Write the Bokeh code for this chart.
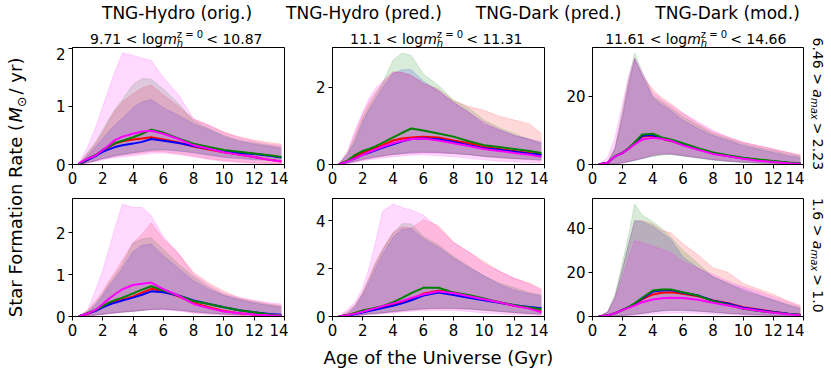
from math import pi, cos, sin
from bokeh.plotting import figure
from bokeh.models import Range1d, FixedTicker, Label, Legend, LegendItem
from bokeh.layouts import row, column
from bokeh.embed import file_html
from bokeh.resources import INLINE

# ---------------- data ----------------
AGE = [0.4, 1.0, 1.5, 2.0, 2.4, 2.8, 3.3, 4.0, 4.6, 5.2, 6.0, 7.0, 8.0, 9.0, 10.0, 11.0, 12.0, 13.0, 13.8]
X_TICKS = [0, 2, 4, 6, 8, 10, 12, 14]
SERIES = ["red", "blue", "green", "mag"]
SERIES_LABELS = ["TNG-Hydro (orig.)", "TNG-Hydro (pred.)", "TNG-Dark (pred.)", "TNG-Dark (mod.)"]
MASS_BINS = [("9.71", "10.87"), ("11.1", "11.31"), ("11.61", "14.66")]
AMAX_BINS = [("6.46", "2.23"), ("1.6", "1.0")]
Y_TICKS = {"A": [0, 1, 2], "B": [0, 2], "C": [0, 20], "D": [0, 1, 2], "E": [0, 2, 4], "F": [0, 20, 40]}
X_LABEL = "Age of the Universe (Gyr)"

# Panel A: top-left
A_red_med = [0, 0.08, 0.15, 0.25, 0.30, 0.36, 0.40, 0.43, 0.45, 0.47, 0.43, 0.38, 0.31, 0.26, 0.21, 0.17, 0.13, 0.08, 0.05]
A_blue_med = [0, 0.08, 0.14, 0.22, 0.26, 0.30, 0.33, 0.36, 0.39, 0.44, 0.41, 0.37, 0.32, 0.27, 0.23, 0.20, 0.18, 0.15, 0.12]
A_green_med = [0, 0.10, 0.16, 0.25, 0.31, 0.37, 0.41, 0.47, 0.53, 0.60, 0.55, 0.45, 0.36, 0.30, 0.25, 0.22, 0.19, 0.16, 0.13]
A_mag_med = [0.02, 0.10, 0.15, 0.25, 0.33, 0.42, 0.48, 0.53, 0.57, 0.58, 0.53, 0.44, 0.33, 0.27, 0.21, 0.17, 0.13, 0.08, 0.05]
A_red_hi = [0, 0.20, 0.35, 0.55, 0.75, 0.92, 1.08, 1.22, 1.32, 1.37, 1.20, 1.00, 0.78, 0.68, 0.56, 0.48, 0.42, 0.38, 0.35]
A_blue_hi = [0, 0.15, 0.30, 0.45, 0.57, 0.68, 0.80, 0.98, 1.08, 1.12, 0.98, 0.85, 0.70, 0.60, 0.48, 0.40, 0.35, 0.31, 0.28]
A_green_hi = [0, 0.20, 0.38, 0.60, 0.78, 0.95, 1.12, 1.38, 1.48, 1.47, 1.30, 1.05, 0.75, 0.62, 0.50, 0.42, 0.37, 0.33, 0.30]
A_mag_hi = [0.02, 0.30, 0.62, 1.00, 1.30, 1.60, 1.92, 1.88, 1.83, 1.79, 1.50, 1.20, 0.79, 0.67, 0.55, 0.46, 0.40, 0.35, 0.33]
A_red_lo = [0, 0.03, 0.06, 0.10, 0.12, 0.14, 0.16, 0.18, 0.20, 0.22, 0.22, 0.19, 0.15, 0.10, 0.07, 0.05, 0.03, 0.02, 0.01]
A_blue_lo = [0, 0.03, 0.06, 0.10, 0.12, 0.15, 0.17, 0.20, 0.22, 0.24, 0.25, 0.23, 0.20, 0.16, 0.12, 0.10, 0.08, 0.07, 0.07]
A_green_lo = [0, 0.04, 0.07, 0.11, 0.13, 0.16, 0.18, 0.21, 0.23, 0.25, 0.26, 0.24, 0.21, 0.17, 0.13, 0.11, 0.09, 0.08, 0.07]
A_mag_lo = [0, 0.02, 0.05, 0.08, 0.10, 0.12, 0.13, 0.15, 0.17, 0.19, 0.20, 0.17, 0.13, 0.09, 0.05, 0.03, 0.02, 0.01, 0.01]

# Panel B: top-middle
B_red_med = [0, 0.10, 0.20, 0.30, 0.36, 0.42, 0.50, 0.62, 0.67, 0.70, 0.72, 0.70, 0.62, 0.55, 0.45, 0.40, 0.35, 0.30, 0.25]
B_blue_med = [0, 0.08, 0.16, 0.25, 0.30, 0.36, 0.43, 0.52, 0.60, 0.66, 0.68, 0.65, 0.58, 0.50, 0.42, 0.38, 0.33, 0.28, 0.25]
B_green_med = [0, 0.10, 0.25, 0.35, 0.40, 0.46, 0.56, 0.70, 0.82, 0.93, 0.88, 0.80, 0.72, 0.60, 0.50, 0.45, 0.40, 0.35, 0.30]
B_mag_med = [0, 0.08, 0.16, 0.25, 0.32, 0.38, 0.46, 0.55, 0.61, 0.66, 0.67, 0.62, 0.55, 0.48, 0.40, 0.35, 0.30, 0.25, 0.20]
B_red_hi = [0, 0.30, 0.80, 1.30, 1.60, 1.85, 2.10, 2.40, 2.38, 2.30, 2.10, 1.95, 1.65, 1.50, 1.40, 1.25, 1.15, 1.05, 0.80]
B_blue_hi = [0, 0.25, 0.60, 1.10, 1.40, 1.65, 1.98, 2.35, 2.45, 2.45, 2.15, 1.90, 1.60, 1.35, 1.05, 0.90, 0.75, 0.65, 0.55]
B_green_hi = [0, 0.30, 0.70, 1.20, 1.50, 1.75, 2.10, 2.70, 2.88, 2.82, 2.34, 2.04, 1.66, 1.45, 1.15, 0.95, 0.80, 0.65, 0.55]
B_mag_hi = [0, 0.35, 0.90, 1.35, 1.70, 1.95, 2.15, 2.38, 2.38, 2.30, 2.10, 1.90, 1.60, 1.35, 1.10, 0.90, 0.75, 0.65, 0.60]
B_red_lo = [0, 0.03, 0.07, 0.12, 0.15, 0.18, 0.21, 0.25, 0.27, 0.29, 0.30, 0.30, 0.28, 0.25, 0.20, 0.17, 0.15, 0.12, 0.10]
B_blue_lo = [0, 0.04, 0.08, 0.13, 0.16, 0.19, 0.22, 0.26, 0.28, 0.30, 0.31, 0.30, 0.28, 0.25, 0.21, 0.18, 0.15, 0.13, 0.12]
B_green_lo = [0, 0.04, 0.09, 0.14, 0.17, 0.20, 0.23, 0.27, 0.30, 0.32, 0.33, 0.32, 0.30, 0.26, 0.22, 0.19, 0.16, 0.14, 0.12]
B_mag_lo = [0, 0.02, 0.05, 0.10, 0.12, 0.14, 0.17, 0.20, 0.22, 0.24, 0.25, 0.23, 0.20, 0.16, 0.12, 0.09, 0.07, 0.05, 0.04]

# Panel C: top-right
C_red_med = [0, 0.5, 2.4, 3.4, 4.7, 6.2, 8.2, 8.4, 7.5, 6.9, 5.8, 4.5, 3.3, 2.5, 1.8, 1.3, 0.9, 0.5, 0.3]
C_blue_med = [0, 0.5, 2.4, 3.4, 4.7, 6.3, 8.4, 8.6, 7.6, 7.0, 5.8, 4.5, 3.3, 2.5, 1.8, 1.3, 0.9, 0.5, 0.3]
C_green_med = [0, 0.5, 2.5, 3.5, 4.8, 6.5, 8.8, 9.0, 7.9, 7.3, 6.2, 4.8, 3.5, 2.7, 2.0, 1.5, 1.0, 0.6, 0.4]
C_mag_med = [0, 0.5, 2.4, 3.4, 4.6, 5.9, 7.3, 7.8, 7.5, 7.0, 5.6, 4.3, 3.1, 2.4, 1.7, 1.1, 0.7, 0.4, 0.2]
C_red_hi = [0, 0.5, 5.0, 15.0, 24.0, 31.0, 26.0, 22.0, 19.5, 17.8, 15.0, 12.0, 9.5, 8.0, 6.5, 5.5, 4.5, 3.5, 2.8]
C_blue_hi = [0, 0.5, 4.5, 14.0, 23.0, 31.0, 26.0, 19.5, 17.5, 15.7, 13.0, 10.5, 8.5, 7.0, 5.5, 4.5, 3.5, 2.5, 2.0]
C_green_hi = [0, 0.5, 5.0, 16.0, 25.0, 32.6, 27.0, 20.0, 18.3, 16.5, 14.0, 11.5, 9.0, 7.5, 6.0, 5.0, 4.0, 3.0, 2.5]
C_mag_hi = [0, 2.0, 8.0, 18.0, 26.0, 31.0, 27.0, 21.0, 19.0, 17.2, 15.0, 12.5, 10.0, 8.0, 6.5, 5.5, 4.5, 3.5, 2.5]
C_red_lo = [0, 0.05, 0.2, 0.5, 0.8, 1.3, 1.8, 2.6, 3.0, 3.1, 2.6, 2.0, 1.4, 1.0, 0.7, 0.45, 0.3, 0.2, 0.15]
C_blue_lo = [0, 0.05, 0.2, 0.5, 0.8, 1.2, 1.7, 2.5, 2.9, 3.0, 2.5, 1.9, 1.3, 0.9, 0.6, 0.4, 0.3, 0.2, 0.15]
C_green_lo = [0, 0.05, 0.2, 0.5, 0.8, 1.2, 1.7, 2.4, 2.8, 2.9, 2.5, 1.9, 1.3, 0.9, 0.6, 0.4, 0.3, 0.2, 0.15]
C_mag_lo = [0, 0.05, 0.2, 0.5, 0.9, 1.4, 2.0, 3.0, 3.3, 3.2, 2.8, 2.2, 1.5, 1.1, 0.8, 0.55, 0.4, 0.3, 0.2]

# Panel D: bottom-left
D_red_med = [0, 0.06, 0.14, 0.25, 0.31, 0.36, 0.40, 0.48, 0.57, 0.66, 0.60, 0.48, 0.32, 0.22, 0.13, 0.08, 0.05, 0.02, 0.01]
D_blue_med = [0, 0.07, 0.13, 0.22, 0.28, 0.33, 0.38, 0.45, 0.52, 0.60, 0.58, 0.50, 0.38, 0.30, 0.22, 0.15, 0.10, 0.06, 0.04]
D_green_med = [0, 0.08, 0.15, 0.25, 0.33, 0.39, 0.45, 0.55, 0.64, 0.72, 0.62, 0.50, 0.37, 0.30, 0.22, 0.15, 0.10, 0.05, 0.03]
D_mag_med = [0, 0.07, 0.15, 0.30, 0.42, 0.53, 0.65, 0.75, 0.78, 0.81, 0.65, 0.50, 0.30, 0.20, 0.12, 0.08, 0.05, 0.03, 0.02]
D_red_hi = [0, 0.15, 0.35, 0.60, 0.85, 1.05, 1.35, 1.75, 1.97, 2.23, 1.85, 1.50, 1.05, 0.80, 0.60, 0.45, 0.37, 0.30, 0.27]
D_blue_hi = [0, 0.10, 0.27, 0.50, 0.72, 0.90, 1.15, 1.55, 1.70, 1.73, 1.45, 1.15, 0.85, 0.65, 0.50, 0.40, 0.32, 0.26, 0.22]
D_green_hi = [0, 0.12, 0.30, 0.55, 0.78, 0.98, 1.25, 1.75, 1.85, 1.88, 1.60, 1.25, 0.95, 0.70, 0.52, 0.42, 0.34, 0.28, 0.24]
D_mag_hi = [0, 0.15, 0.60, 1.10, 1.60, 2.10, 2.68, 2.60, 2.60, 2.40, 1.90, 1.50, 1.00, 0.75, 0.55, 0.45, 0.38, 0.33, 0.30]
D_red_lo = [0, 0.02, 0.03, 0.05, 0.07, 0.09, 0.10, 0.12, 0.15, 0.17, 0.18, 0.15, 0.10, 0.07, 0.05, 0.03, 0.02, 0.01, 0.01]
D_blue_lo = [0, 0.02, 0.03, 0.05, 0.07, 0.08, 0.10, 0.12, 0.14, 0.16, 0.17, 0.15, 0.11, 0.08, 0.06, 0.04, 0.03, 0.02, 0.02]
D_green_lo = [0, 0.02, 0.04, 0.06, 0.08, 0.09, 0.11, 0.13, 0.15, 0.17, 0.18, 0.16, 0.12, 0.09, 0.06, 0.04, 0.03, 0.02, 0.02]
D_mag_lo = [0, 0.01, 0.03, 0.05, 0.07, 0.09, 0.11, 0.13, 0.15, 0.17, 0.16, 0.13, 0.08, 0.05, 0.03, 0.02, 0.01, 0.01, 0.0]

# Panel E: bottom-middle
E_red_med = [0, 0.05, 0.15, 0.25, 0.29, 0.33, 0.40, 0.50, 0.60, 0.72, 0.95, 1.08, 1.00, 0.85, 0.72, 0.60, 0.45, 0.35, 0.20]
E_blue_med = [0, 0.03, 0.10, 0.17, 0.23, 0.28, 0.35, 0.45, 0.55, 0.68, 0.88, 1.00, 0.90, 0.78, 0.68, 0.57, 0.47, 0.40, 0.35]
E_green_med = [0, 0.05, 0.15, 0.25, 0.30, 0.36, 0.43, 0.60, 0.78, 0.98, 1.20, 1.20, 1.00, 0.90, 0.75, 0.60, 0.48, 0.38, 0.30]
E_mag_med = [0, 0.05, 0.12, 0.20, 0.27, 0.34, 0.43, 0.55, 0.65, 0.78, 0.92, 1.05, 0.98, 0.85, 0.72, 0.60, 0.45, 0.33, 0.18]
E_red_hi = [0, 0.20, 0.50, 1.00, 1.60, 2.20, 2.80, 3.50, 3.75, 3.70, 4.05, 3.80, 3.10, 2.70, 2.30, 1.90, 1.60, 1.40, 1.15]
E_blue_hi = [0, 0.12, 0.40, 0.90, 1.40, 1.95, 2.60, 3.30, 3.65, 3.68, 3.25, 2.90, 2.45, 2.05, 1.70, 1.35, 1.10, 0.95, 0.85]
E_green_hi = [0, 0.15, 0.45, 1.00, 1.55, 2.15, 2.80, 3.50, 3.88, 3.88, 3.35, 3.00, 2.50, 2.10, 1.70, 1.40, 1.20, 1.00, 0.90]
E_mag_hi = [0, 0.30, 0.60, 1.20, 2.00, 3.00, 4.40, 4.70, 4.55, 4.45, 4.25, 3.70, 3.10, 2.70, 2.20, 1.90, 1.60, 1.35, 1.10]
E_red_lo = [0, 0.01, 0.03, 0.07, 0.10, 0.12, 0.15, 0.19, 0.23, 0.27, 0.30, 0.32, 0.32, 0.30, 0.25, 0.20, 0.15, 0.11, 0.07]
E_blue_lo = [0, 0.01, 0.03, 0.07, 0.10, 0.12, 0.15, 0.20, 0.24, 0.28, 0.32, 0.34, 0.33, 0.31, 0.27, 0.22, 0.17, 0.13, 0.10]
E_green_lo = [0, 0.01, 0.04, 0.08, 0.11, 0.13, 0.16, 0.21, 0.25, 0.29, 0.33, 0.35, 0.34, 0.32, 0.27, 0.22, 0.17, 0.13, 0.10]
E_mag_lo = [0, 0.01, 0.03, 0.05, 0.07, 0.09, 0.12, 0.15, 0.19, 0.22, 0.25, 0.26, 0.25, 0.21, 0.15, 0.11, 0.08, 0.06, 0.04]

# Panel F: bottom-right
F_red_med = [0, 0.5, 1.5, 3.0, 4.1, 5.6, 7.8, 10.0, 10.8, 11.0, 10.3, 9.2, 7.3, 6.0, 4.2, 3.2, 2.2, 1.3, 0.8]
F_blue_med = [0, 0.5, 1.5, 3.0, 4.2, 5.8, 8.2, 11.3, 11.8, 12.0, 10.8, 9.5, 7.2, 5.8, 4.0, 3.0, 2.0, 1.2, 0.7]
F_green_med = [0, 0.5, 1.5, 3.0, 4.3, 6.0, 8.5, 11.8, 12.2, 12.3, 11.0, 9.5, 7.0, 5.3, 3.5, 2.5, 1.8, 1.1, 0.7]
F_mag_med = [0, 0.5, 1.5, 3.0, 3.9, 5.0, 6.5, 7.7, 8.3, 8.5, 8.4, 7.6, 6.2, 5.0, 3.6, 2.6, 1.7, 1.0, 0.5]
F_red_hi = [0, 2.0, 9.0, 22.0, 33.0, 43.5, 43.5, 42.0, 39.0, 38.0, 33.0, 28.0, 22.0, 20.0, 15.0, 12.5, 10.0, 7.0, 5.0]
F_blue_hi = [0, 2.0, 9.0, 22.0, 33.0, 43.5, 43.0, 41.0, 38.0, 35.0, 27.0, 22.0, 18.0, 15.0, 12.5, 10.0, 7.5, 5.0, 3.5]
F_green_hi = [0, 2.0, 10.0, 25.0, 37.0, 51.0, 46.0, 43.0, 40.0, 36.0, 30.0, 24.0, 18.0, 15.0, 11.5, 9.5, 7.5, 5.5, 4.0]
F_mag_hi = [0, 2.0, 8.0, 18.0, 27.0, 34.5, 33.5, 32.0, 30.5, 29.0, 25.0, 22.0, 19.0, 16.0, 13.5, 11.5, 9.0, 6.5, 4.5]
F_red_lo = [0, 0.05, 0.2, 0.4, 0.7, 1.0, 1.5, 2.2, 2.7, 3.0, 2.9, 2.5, 2.0, 1.5, 1.1, 0.8, 0.5, 0.3, 0.2]
F_blue_lo = [0, 0.05, 0.2, 0.4, 0.7, 1.0, 1.4, 2.0, 2.5, 2.8, 2.7, 2.4, 1.9, 1.4, 1.0, 0.7, 0.5, 0.3, 0.2]
F_green_lo = [0, 0.05, 0.2, 0.4, 0.7, 1.0, 1.4, 2.0, 2.5, 2.8, 2.7, 2.4, 1.9, 1.4, 1.0, 0.7, 0.5, 0.3, 0.2]
F_mag_lo = [0, 0.03, 0.1, 0.2, 0.35, 0.55, 0.8, 1.1, 1.4, 1.6, 1.6, 1.4, 1.0, 0.75, 0.5, 0.35, 0.2, 0.12, 0.08]

# table built from the named arrays above
_g = globals()
PANELS = {k: {s: {q: _g[f"{k}_{s}_{q}"] for q in ("med", "lo", "hi")} for s in SERIES} for k in "ABCDEF"}

# ---------------- styling ----------------
COLORS = {"red": "#ff0000", "blue": "#0000ff", "green": "#008000", "mag": "#ff00ff"}
FONT = "DejaVu Sans"
BAND_ALPHA = 0.15
MID = 0.35   # middle of the text box above the alphabetic baseline, in em

CHAR_W = {c: 0.636 for c in "0123456789"}
CHAR_W.update({".": 0.318, " ": 0.318, "<": 0.838, ">": 0.838, "=": 0.838, "(": 0.390, ")": 0.390,
               "/": 0.337, "S": 0.635, "t": 0.392, "a": 0.613, "r": 0.411, "F": 0.575, "o": 0.612,
               "m": 0.974, "i": 0.278, "n": 0.634, "R": 0.695, "e": 0.615, "y": 0.592, "l": 0.278,
               "g": 0.635, "M": 0.863, "x": 0.592, "h": 0.634, "z": 0.525, "A": 0.684, "f": 0.352,
               "U": 0.732, "v": 0.592, "s": 0.521, "G": 0.775, "\u2299": 1.0})


def tw(s, size):
    return sum(CHAR_W.get(c, 0.6) for c in s) * size


def rich_text(p, pieces, cx, cy, angle):
    """pieces: (text, size, style, shift, advance); (cx, cy) = baseline centre (frame screen units)."""
    adv = [(pc[4] if pc[4] is not None else tw(pc[0], pc[1])) for pc in pieces]
    total = sum(adv)
    dx, dy = cos(angle), sin(angle)
    ux, uy = -sin(angle), cos(angle)
    x0, y0 = cx - total / 2 * dx, cy - total / 2 * dy
    acc = 0.0
    for (text, size, style, shift, _), a in zip(pieces, adv):
        up = shift + MID * size
        p.add_layout(Label(x=x0 + acc * dx + up * ux, y=y0 + acc * dy + up * uy,
                           x_units="screen", y_units="screen", text=text, angle=angle,
                           text_font=FONT, text_font_size=f"{size}px", text_font_style=style,
                           text_align="left", text_baseline="middle", text_color="black"))
        acc += a


def strip(w, h):
    f = figure(width=w, height=h, x_range=Range1d(0, 1), y_range=Range1d(0, 1),
               x_axis_location=None, y_axis_location=None, min_border=0,
               toolbar_location=None, output_backend="svg")
    f.grid.visible = False
    f.outline_line_color = None
    return f


def make_panel(key, rowi, coli):
    fw = 211 if coli == 2 else 212
    fh = 117 if rowi == 0 else 118
    data = PANELS[key]
    ymax = 1.05 * max(max(data[s]["hi"]) for s in SERIES)
    p = figure(frame_width=fw, frame_height=fh, x_range=Range1d(0, 14), y_range=Range1d(0, ymax),
               output_backend="svg", toolbar_location=None,
               min_border_left=44, min_border_right=1 if coli == 2 else 4,
               min_border_top=0 if rowi == 0 else 7, min_border_bottom=27 if rowi == 0 else 28)
    for s in SERIES:
        p.varea(x=AGE, y1=data[s]["lo"], y2=data[s]["hi"], fill_color=COLORS[s], fill_alpha=BAND_ALPHA)
        p.line(x=AGE, y=data[s]["hi"], line_color=COLORS[s], line_alpha=0.15, line_width=1)
        p.line(x=AGE, y=data[s]["lo"], line_color=COLORS[s], line_alpha=0.15, line_width=1)
    for s in SERIES:
        p.line(x=AGE, y=data[s]["med"], line_color=COLORS[s], line_width=2)
    p.xaxis.ticker = FixedTicker(ticks=X_TICKS)
    p.yaxis.ticker = FixedTicker(ticks=Y_TICKS[key])
    for ax in p.axis:
        ax.major_label_text_font = FONT
        ax.major_label_text_font_size = "15px"
        ax.major_label_text_color = "black"
        ax.major_tick_out = 4
        ax.major_tick_in = 0
        ax.major_tick_line_color = "black"
        ax.minor_tick_line_color = None
        ax.axis_line_color = "black"
        ax.major_label_standoff = 3
    p.grid.visible = False
    p.outline_line_color = "black"
    p.outline_line_alpha = 1.0
    p.background_fill_color = "white"
    p.border_fill_color = "white"
    return p


panels = {k: make_panel(k, i // 3, i % 3) for i, k in enumerate("ABCDEF")}

LEFT_W = 28
MAIN_W = LEFT_W + 260 + 260 + 256   # 804
TOP_H = 47
MID_H = (117 + 27) + (7 + 118 + 28)  # 297
BOT_H = 31

# top strip: legend + column titles
top = strip(MAIN_W, TOP_H)
items = []
for s, lab in zip(SERIES, SERIES_LABELS):
    r = top.line(x=[], y=[], line_color=COLORS[s], line_width=2)
    items.append(LegendItem(label=lab, renderers=[r]))
leg = Legend(items=items, orientation="horizontal", location=(76, 24), padding=0, margin=0,
             spacing=8, glyph_width=18, label_standoff=8, border_line_color=None,
             background_fill_alpha=0, label_text_font=FONT, label_text_font_size="17px",
             label_text_color="black", glyph_height=18, label_height=18)
top.add_layout(leg, "center")
title_cx = [178, 438, 697.5]
for (lo, hi), cx in zip(MASS_BINS, title_cx):
    sup = "z = 0"
    rich_text(top, [(f"{lo} < log", 14, "normal", 0, None),
                    ("m", 14, "italic", 0, None),
                    (sup, 10, "normal", 6, 0),
                    ("h", 10, "italic", -3, tw(sup, 10) + 3),
                    (f" < {hi}", 14, "normal", 0, None)],
              cx, 4, 0.0)

# left strip: y label
yf = strip(LEFT_W, MID_H)
rich_text(yf, [("Star Formation Rate (", 18, "normal", 0, None),
               ("M", 18, "italic", 0, None),
               ("\u2299", 12.6, "normal", -4, None),
               (" / yr)", 18, "normal", 0, None)],
          21.5, 160, pi / 2)

# bottom strip: x label
xf = strip(MAIN_W, BOT_H)
rich_text(xf, [(X_LABEL, 18, "normal", 0, None)], 438, 12, 0.0)

# right strip: row labels
RIGHT_W = 831 - MAIN_W
rf = strip(RIGHT_W, TOP_H + MID_H + BOT_H)
for (a, b), cy in zip(AMAX_BINS, [375 - 105.5, 375 - 257]):
    rich_text(rf, [(f"{a} > ", 14, "normal", 0, None),
                   ("a", 14, "italic", 0, None),
                   ("max", 10, "italic", -3, tw("max", 10) + 3),
                   (f" > {b}", 14, "normal", 0, None)],
              9, cy, -pi / 2)

grid = column(row(panels["A"], panels["B"], panels["C"]),
              row(panels["D"], panels["E"], panels["F"]))
layout = row(column(top, row(yf, grid), xf), rf)

open("out.html", "w").write(file_html(layout, INLINE))
